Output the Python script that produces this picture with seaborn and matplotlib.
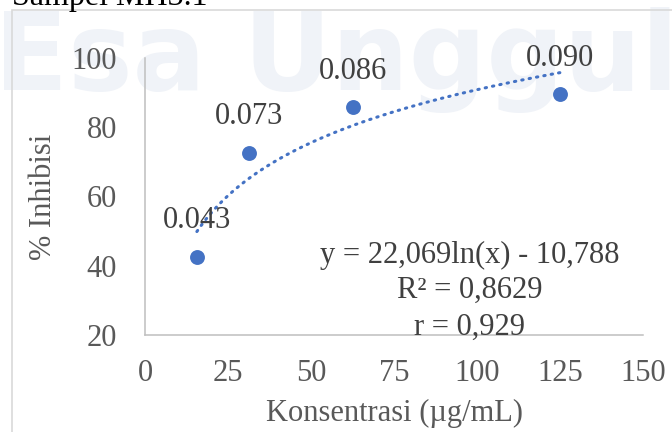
import numpy as np
import pandas as pd
import matplotlib
matplotlib.use("Agg")
import matplotlib.pyplot as plt
from matplotlib.patches import Rectangle
import seaborn as sns

# Concentration series and measured inhibition
konsentrasi = [15.625, 31.25, 62.5, 125]
inhibisi = [42.6, 72.6, 85.8, 89.6]
absorbansi = ["0.043", "0.073", "0.086", "0.090"]

# Logarithmic trendline coefficients: y = a ln(x) + b
coef_a = 22.069
coef_b = -10.788
persamaan = ["y = 22,069ln(x) - 10,788", "R\u00b2 = 0,8629", "r = 0,929"]

x_ticks = [0, 25, 50, 75, 100, 125, 150]
y_ticks = [20, 40, 60, 80, 100]

sns.set_theme(style="white")
plt.rcParams["font.family"] = ["Liberation Serif", "DejaVu Serif"]

BLUE = "#4472C4"
TICK = "#595959"
LABEL = "#404040"

W, H = 672, 432
fig = plt.figure(figsize=(W / 100, H / 100), dpi=100)
fig.patch.set_facecolor("white")

# faint watermark behind the chart
fig.text(-6 / W, 1 - 90 / H, "Esa Unggul", fontsize=78, fontweight="bold",
         family="DejaVu Sans", color="#f0f3f8", ha="left", va="baseline",
         zorder=-5)

# chart area border
fig.patches.append(Rectangle((12 / W, -0.2), 1.2, 1.2 - 10 / H,
                             transform=fig.transFigure, fill=False,
                             edgecolor="#d9d9d9", linewidth=1.2, zorder=-4))

fig.text(12 / W, 1 - 5 / H, "Sampel MH3.1", fontsize=23, color="black",
         ha="left", va="baseline", zorder=-3)

ax = fig.add_axes([145 / W, 1 - 335 / H, (643 - 145) / W, (335 - 58) / H])
ax.set_facecolor("none")
ax.set_zorder(2)

df = pd.DataFrame({"x": konsentrasi, "y": inhibisi})
xt = np.linspace(min(konsentrasi), max(konsentrasi), 200)
trend = pd.DataFrame({"x": xt, "y": coef_a * np.log(xt) + coef_b})

sns.lineplot(data=trend, x="x", y="y", ax=ax, color=BLUE, linewidth=2.2,
             linestyle=(0, (0.45, 2.0)), dash_capstyle="round", zorder=3)
sns.scatterplot(data=df, x="x", y="y", ax=ax, color=BLUE, s=115,
                edgecolor=BLUE, linewidth=0, zorder=4)

for xv, yv, lab in zip(konsentrasi, inhibisi, absorbansi):
    ax.annotate(lab, (xv, yv), xytext=(0, 36), textcoords="offset pixels",
                ha="center", va="center", fontsize=22, color=LABEL, zorder=5)

ax.set_xlim(0, 150)
ax.set_ylim(20, 100)
ax.set_xticks(x_ticks)
ax.set_yticks(y_ticks)
ax.tick_params(axis="both", length=0, labelsize=22, labelcolor=TICK)
ax.tick_params(axis="y", pad=20)
ax.tick_params(axis="x", pad=17)

for side in ["top", "right"]:
    ax.spines[side].set_visible(False)
for side in ["left", "bottom"]:
    ax.spines[side].set_color("#bfbfbf")
    ax.spines[side].set_linewidth(1.1)
ax.grid(False)

ax.set_xlabel("Konsentrasi (\u00b5g/mL)", fontsize=22, color=TICK)
ax.set_ylabel("% Inhibisi", fontsize=22, color=TICK)
ax.xaxis.set_label_coords(0.5, -(399 - 335) / (335 - 58))
ax.yaxis.set_label_coords(-(145 - 58) / (643 - 145), 0.5)

for txt, yp in zip(persamaan, [255, 290, 327]):
    ax.text(470 / W, 1 - yp / H, txt, transform=fig.transFigure,
            fontsize=22, color=LABEL, ha="center", va="center", zorder=6)

fig.savefig("out.png", dpi=100)
